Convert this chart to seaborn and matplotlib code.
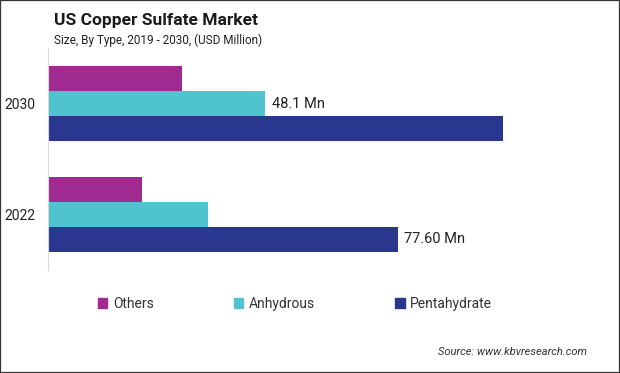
import matplotlib
matplotlib.use("Agg")
import matplotlib.pyplot as plt
import seaborn as sns
import pandas as pd
from matplotlib.patches import Rectangle

# values (USD Million)
years = ["2030", "2022"]
types = ["Others", "Anhydrous", "Pentahydrate"]
others = [29.7, 20.9]
anhydrous = [48.1, 35.5]
pentahydrate = [100.8, 77.6]
colors = ["#9f2b91", "#4fc4d0", "#29388e"]

rows = []
for name, vals in zip(types, [others, anhydrous, pentahydrate]):
    for yr, v in zip(years, vals):
        rows.append({"Year": yr, "Type": name, "Value": v})
df = pd.DataFrame(rows)

sns.set_theme(style="white")
plt.rcParams["font.family"] = ["Roboto", "DejaVu Sans"]

fig = plt.figure(figsize=(6.2, 3.73), dpi=100)
ax = fig.add_axes([47.5 / 620, 1 - 270 / 373, (600 - 47.5) / 620, 222 / 373])

sns.barplot(data=df, y="Year", x="Value", hue="Type", order=years,
            hue_order=types, palette=colors, orient="h", width=0.667,
            saturation=1, linewidth=0, ax=ax, legend=False)

ax.set_xlim(0, 122.2)
ax.set_ylim(1.5, -0.5)
ax.set_xlabel("")
ax.set_ylabel("")
ax.set_xticks([])
ax.tick_params(axis="y", length=0, labelsize=10, pad=9, colors="#222222")
for s in ["top", "right", "bottom"]:
    ax.spines[s].set_visible(False)
ax.spines["left"].set_color("#d8d8d8")
ax.spines["left"].set_linewidth(0.8)

ax.bar_label(ax.containers[1], labels=["48.1 Mn", ""], padding=5,
             fontsize=10.5, color="#222222")
ax.bar_label(ax.containers[2], labels=["", "77.60 Mn"], padding=4,
             fontsize=10.5, color="#222222")

fig.text(54 / 620, 1 - 20 / 373, "US Copper Sulfate Market", fontsize=12.5,
         fontweight="bold", color="#1a1a1a", va="center")
fig.text(54 / 620, 1 - 40 / 373, "Size, By Type, 2019 - 2030, (USD Million)",
         fontsize=8.5, color="#222222", va="center")

handles = [Rectangle((0, 0), 1, 1, color=c) for c in colors]
fig.legend(handles, types, loc="center left", bbox_to_anchor=(85 / 620, 1 - 304 / 373),
           ncol=3, frameon=False, fontsize=10, handlelength=0.7, handleheight=0.7,
           handletextpad=0.4, columnspacing=5.75, labelcolor="#333333")

fig.text(587 / 620, 1 - 352 / 373, "Source: www.kbvresearch.com", fontsize=8,
         style="italic", ha="right", va="center", color="#333333")

fig.patches.append(Rectangle((0, 0), 1, 1, transform=fig.transFigure, fill=False,
                             edgecolor="#333333", linewidth=1.6))

fig.savefig("out.png", dpi=100)
